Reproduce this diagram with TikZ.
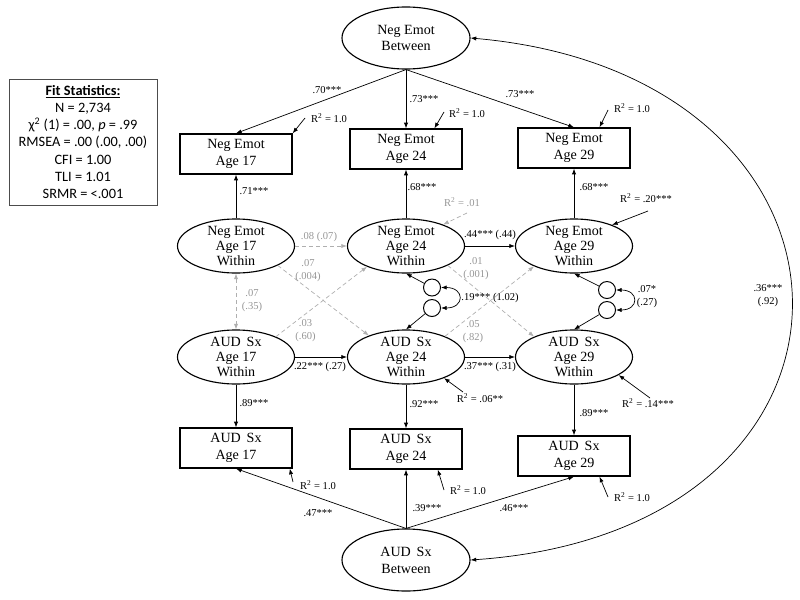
\documentclass[tikz,border=0pt]{standalone}
\usepackage{fontspec}
\setmainfont{Liberation Serif}
\newfontfamily\fitfont{Carlito}
\usetikzlibrary{shapes.geometric,arrows.meta}
\definecolor{ltgray}{RGB}{150,150,150}
\definecolor{dashgray}{RGB}{175,175,175}
\newcommand{\Rsq}{R\textsuperscript{2}}
\newcommand{\audsx}{AUD\hspace{0.42em}Sx}
\begin{document}
\begin{tikzpicture}[
    x=0.025cm,
    y=-0.025cm,
    obs/.style={
        draw,
        line width=0.9pt,
        minimum width=28mm,
        minimum height=10mm,
        align=center,
        font=\fontsize{10}{12}\selectfont
    },
    lat/.style={
        draw,
        ellipse,
        line width=0.8pt,
        minimum width=29.25mm,
        minimum height=13.5mm,
        inner xsep=0pt,
        inner ysep=-2pt,
        align=center,
        font=\fontsize{10}{10.6}\selectfont
    },
    btw/.style={
        draw,
        ellipse,
        line width=0.8pt,
        minimum width=32mm,
        minimum height=15.5mm,
        align=center,
        font=\fontsize{10}{12}\selectfont
    },
    res/.style={draw, circle, line width=0.7pt, minimum size=4.25mm, inner sep=0pt},
    lbl/.style={inner sep=0pt, align=center, font=\fontsize{7.5}{9.2}\selectfont},
    glbl/.style={lbl, text=ltgray},
    arrow/.style={-{Latex[length=4pt,width=3pt]}, line width=0.5pt},
    dbl/.style={{Latex[length=4pt,width=3pt]}-{Latex[length=4pt,width=3pt]}, line width=0.5pt},
    garrow/.style={arrow, draw=dashgray, dash pattern=on 3pt off 2pt},
    gdbl/.style={dbl, draw=dashgray, dash pattern=on 3pt off 2pt}
]
    \useasboundingbox (0,0) rectangle (800,599);

    \node[draw=black!70, line width=0.6pt, minimum width=37mm, minimum height=31.5mm,
          align=center, font=\fitfont\fontsize{10.2}{12.3}\selectfont] (fit) at (83,142)
        {\underline{\textbf{Fit Statistics:}}\\N = 2,734\\χ\textsuperscript{2} (1) = .00, \textit{p} = .99\\RMSEA = .00 (.00, .00)\\CFI = 1.00\\TLI = 1.01\\SRMR = <.001};

    \node[btw] (neb) at (406,38) {Neg Emot\\Between};
    \node[btw] (aub) at (406,560) {\audsx\\Between};

    \node[obs] (ne17) at (236,154) {Neg Emot\\Age 17};
    \node[obs] (ne24) at (406,149) {Neg Emot\\Age 24};
    \node[obs] (ne29) at (574,148) {Neg Emot\\Age 29};

    \node[lat] (new17) at (236,246) {Neg Emot\\Age 17\\Within};
    \node[lat] (new24) at (406,246) {Neg Emot\\Age 24\\Within};
    \node[lat] (new29) at (574,246) {Neg Emot\\Age 29\\Within};

    \node[lat] (aud17w) at (236,357) {\audsx\\Age 17\\Within};
    \node[lat] (aud24w) at (406,357) {\audsx\\Age 24\\Within};
    \node[lat] (aud29w) at (574,357) {\audsx\\Age 29\\Within};

    \node[obs] (aud17) at (236,448) {\audsx\\Age 17};
    \node[obs] (aud24) at (406,449) {\audsx\\Age 24};
    \node[obs] (aud29) at (574,456) {\audsx\\Age 29};

    \node[res] (c1) at (432,287.5) {};
    \node[res] (c2) at (432,308) {};
    \node[res] (c3) at (607,290) {};
    \node[res] (c4) at (607,310) {};

    \coordinate (r17) at (305,118);
    \coordinate (r24) at (444,112);
    \coordinate (r29) at (608,110);
    \coordinate (rw24) at (467,213);
    \coordinate (rw29) at (648,211);
    \coordinate (ra24w) at (463,392);
    \coordinate (ra29w) at (650,398);
    \coordinate (ra17) at (293,482);
    \coordinate (ra24) at (444,490);
    \coordinate (ra29) at (608,497);

    \draw[arrow] (neb.south) -- (ne17.north);
    \draw[arrow] (neb.south) -- (ne24.north);
    \draw[arrow] (neb.south) -- (ne29.north);
    \draw[arrow] (new17) -- (ne17);
    \draw[arrow] (new24) -- (ne24);
    \draw[arrow] (new29) -- (ne29);
    \draw[arrow] (aud17w) -- (aud17);
    \draw[arrow] (aud24w) -- (aud24);
    \draw[arrow] (aud29w) -- (aud29);
    \draw[arrow] (aub.north) -- (aud17.south);
    \draw[arrow] (aub.north) -- (aud24.south);
    \draw[arrow] (aub.north) -- (aud29.south);

    \draw[arrow] (new24.east) -- (new29.west);
    \draw[arrow] (aud17w.east) -- (aud24w.west);
    \draw[arrow] (aud24w.east) -- (aud29w.west);
    \draw[garrow] (new17.east) -- (new24.west);
    \draw[garrow] (new17.-25) -- (aud24w.150);
    \draw[garrow] (aud17w.27) -- (new24.208);
    \draw[garrow] (new24.-25) -- (aud29w.153);
    \draw[garrow] (aud24w.28) -- (new29.207);
    \draw[gdbl] (new17) -- (aud17w);

    \draw[arrow] (c1) -- (new24.south);
    \draw[arrow] (c2) -- (aud24w.north);
    \draw[arrow] (c3) -- (new29.south);
    \draw[arrow] (c4) -- (aud29w.north);
    \draw[dbl] (c1.east) to[out=0, in=0, looseness=3] (c2.east);
    \draw[dbl] (c3.east) to[out=0, in=0, looseness=3] (c4.east);
    \draw[dbl] (neb.east) .. controls (893,75) and (903,530) .. (aub.east);

    \draw[arrow] (r17) -- (ne17.north east);
    \draw[arrow] (r24) -- (ne24.36);
    \draw[arrow] (r29) -- (ne29.39);
    \draw[garrow] (rw24) -- (new24.30);
    \draw[arrow] (rw29) -- (new29.29);
    \draw[arrow] (ra24w) -- (aud24w.-29);
    \draw[arrow] (ra29w) -- (aud29w.-22);
    \draw[arrow] (ra17) -- (aud17.-21);
    \draw[arrow] (ra24) -- (aud24.-33);
    \draw[arrow] (ra29) -- (aud29.-39);

    \node[lbl] (l70) at (327,90) {.70***};
    \node[lbl] (l73a) at (424,99) {.73***};
    \node[lbl] (l73b) at (520,94) {.73***};
    \node[lbl] (lr17) at (329,118) {\Rsq{} = 1.0};
    \node[lbl] (lr24) at (467,113) {\Rsq{} = 1.0};
    \node[lbl] (lr29) at (632,108) {\Rsq{} = 1.0};
    \node[lbl] (l71) at (254,191) {.71***};
    \node[lbl] (l68a) at (422,187) {.68***};
    \node[lbl] (l68b) at (594,187) {.68***};
    \node[glbl] (lrw24) at (462,202) {\Rsq{} = .01};
    \node[lbl] (lrw29) at (646,198) {\Rsq{} = .20***};
    \node[glbl] (l08) at (319,237) {.08 (.07)};
    \node[lbl] (l44) at (490,235) {.44*** (.44)};
    \node[glbl] (l07a) at (308,270.5) {.07\\(.004)};
    \node[glbl] (l01) at (476,268.5) {.01\\(.001)};
    \node[glbl] (l07b) at (252,300.5) {.07\\(.35)};
    \node[lbl] (l19) at (490,298) {.19*** (1.02)};
    \node[lbl] (l07c) at (647,296.5) {.07*\\(.27)};
    \node[glbl] (l03) at (305.5,330.5) {.03\\(.60)};
    \node[glbl] (l05) at (473,331.5) {.05\\(.82)};
    \node[lbl] (l36) at (768,296) {.36***\\(.92)};
    \node[lbl] (l22) at (320,367) {.22*** (.27)};
    \node[lbl] (l37) at (490,367) {.37*** (.31)};
    \node[lbl] (lra24w) at (480,398) {\Rsq{} = .06**};
    \node[lbl] (lra29w) at (648,403) {\Rsq{} = .14***};
    \node[lbl] (l89a) at (254,403) {.89***};
    \node[lbl] (l92) at (424,404) {.92***};
    \node[lbl] (l89b) at (594,413) {.89***};
    \node[lbl] (lra17) at (318,485) {\Rsq{} = 1.0};
    \node[lbl] (lra24) at (468,490) {\Rsq{} = 1.0};
    \node[lbl] (lra29) at (632,497) {\Rsq{} = 1.0};
    \node[lbl] (l47) at (318,513) {.47***};
    \node[lbl] (l39) at (427,508) {.39***};
    \node[lbl] (l46) at (514,508) {.46***};
\end{tikzpicture}
\end{document}
